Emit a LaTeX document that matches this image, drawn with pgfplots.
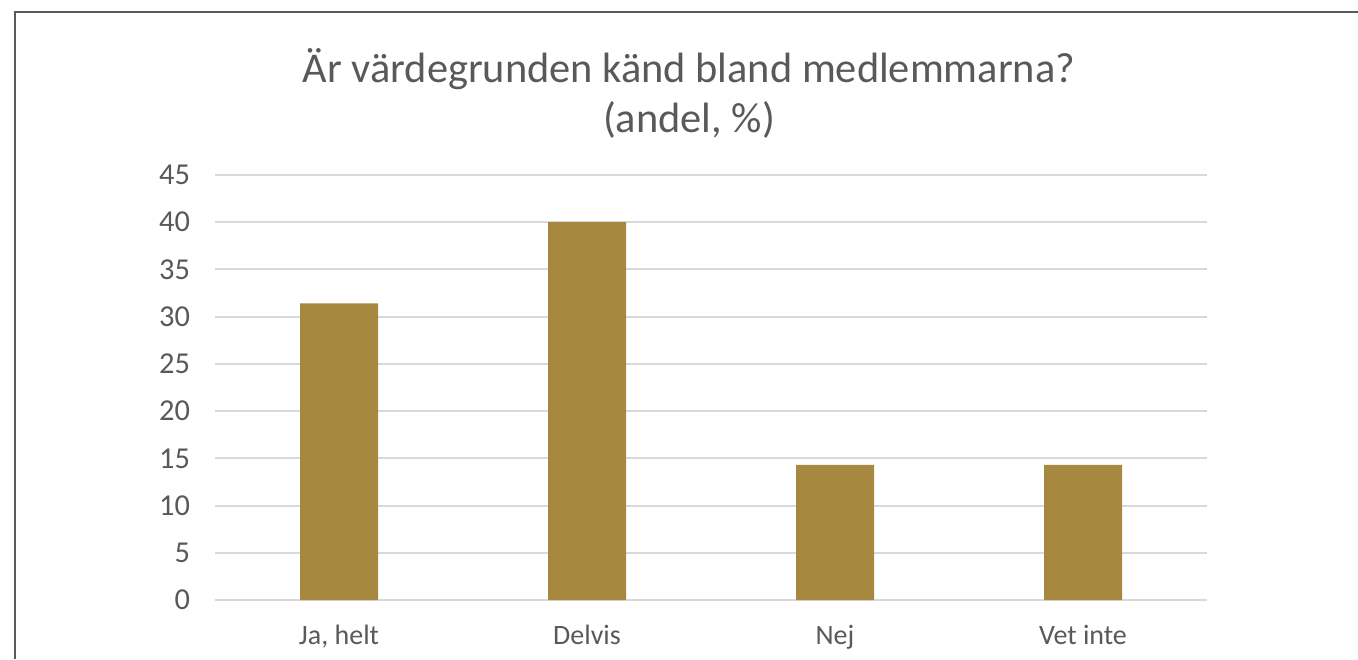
\documentclass[border=0pt]{standalone}
\usepackage{fontspec}
\setmainfont{Carlito}
\usepackage{pgfplots}
\pgfplotsset{compat=1.18}
\definecolor{barc}{RGB}{166,137,62}
\definecolor{txt}{RGB}{89,89,89}
\definecolor{grd}{RGB}{217,217,217}
\definecolor{frm}{RGB}{90,90,90}
\begin{document}
\begin{tikzpicture}
\useasboundingbox (0,0) rectangle (679pt,329.5pt);
\draw[frm, line width=1pt] (7.5pt,0) -- (7.5pt,323.5pt) -- (679pt,323.5pt);
\node[txt, font=\fontsize{21.2}{25}\selectfont, align=center] at (344.5pt,283pt) {Är värdegrunden känd bland medlemmarna?\\(andel, \%)};
\begin{axis}[
  at={(107.5pt,29.5pt)}, anchor=south west,
  scale only axis, width=496pt, height=212.5pt,
  xmin=-0.5, xmax=3.5, ymin=0, ymax=45,
  ytick={0,5,...,45},
  xtick={0,1,2,3},
  xticklabels={{Ja, helt},Delvis,Nej,{Vet inte}},
  ymajorgrids, grid style={grd, line width=1pt},
  axis line style={draw=none},
  major tick length=0pt,
  tick label style={txt, font=\fontsize{14}{16}\selectfont},
  /pgf/number format/assume math mode=true,
  yticklabel style={anchor=east, xshift=-9pt, font=\fontsize{15.2}{18}\selectfont},
  xticklabel style={anchor=north, yshift=-9pt},
  clip=false,
]
\addplot[ybar, fill=barc, draw=none, bar width=39pt] coordinates {(0,31.4) (1,40) (2,14.3) (3,14.3)};
\end{axis}
\end{tikzpicture}
\end{document}
